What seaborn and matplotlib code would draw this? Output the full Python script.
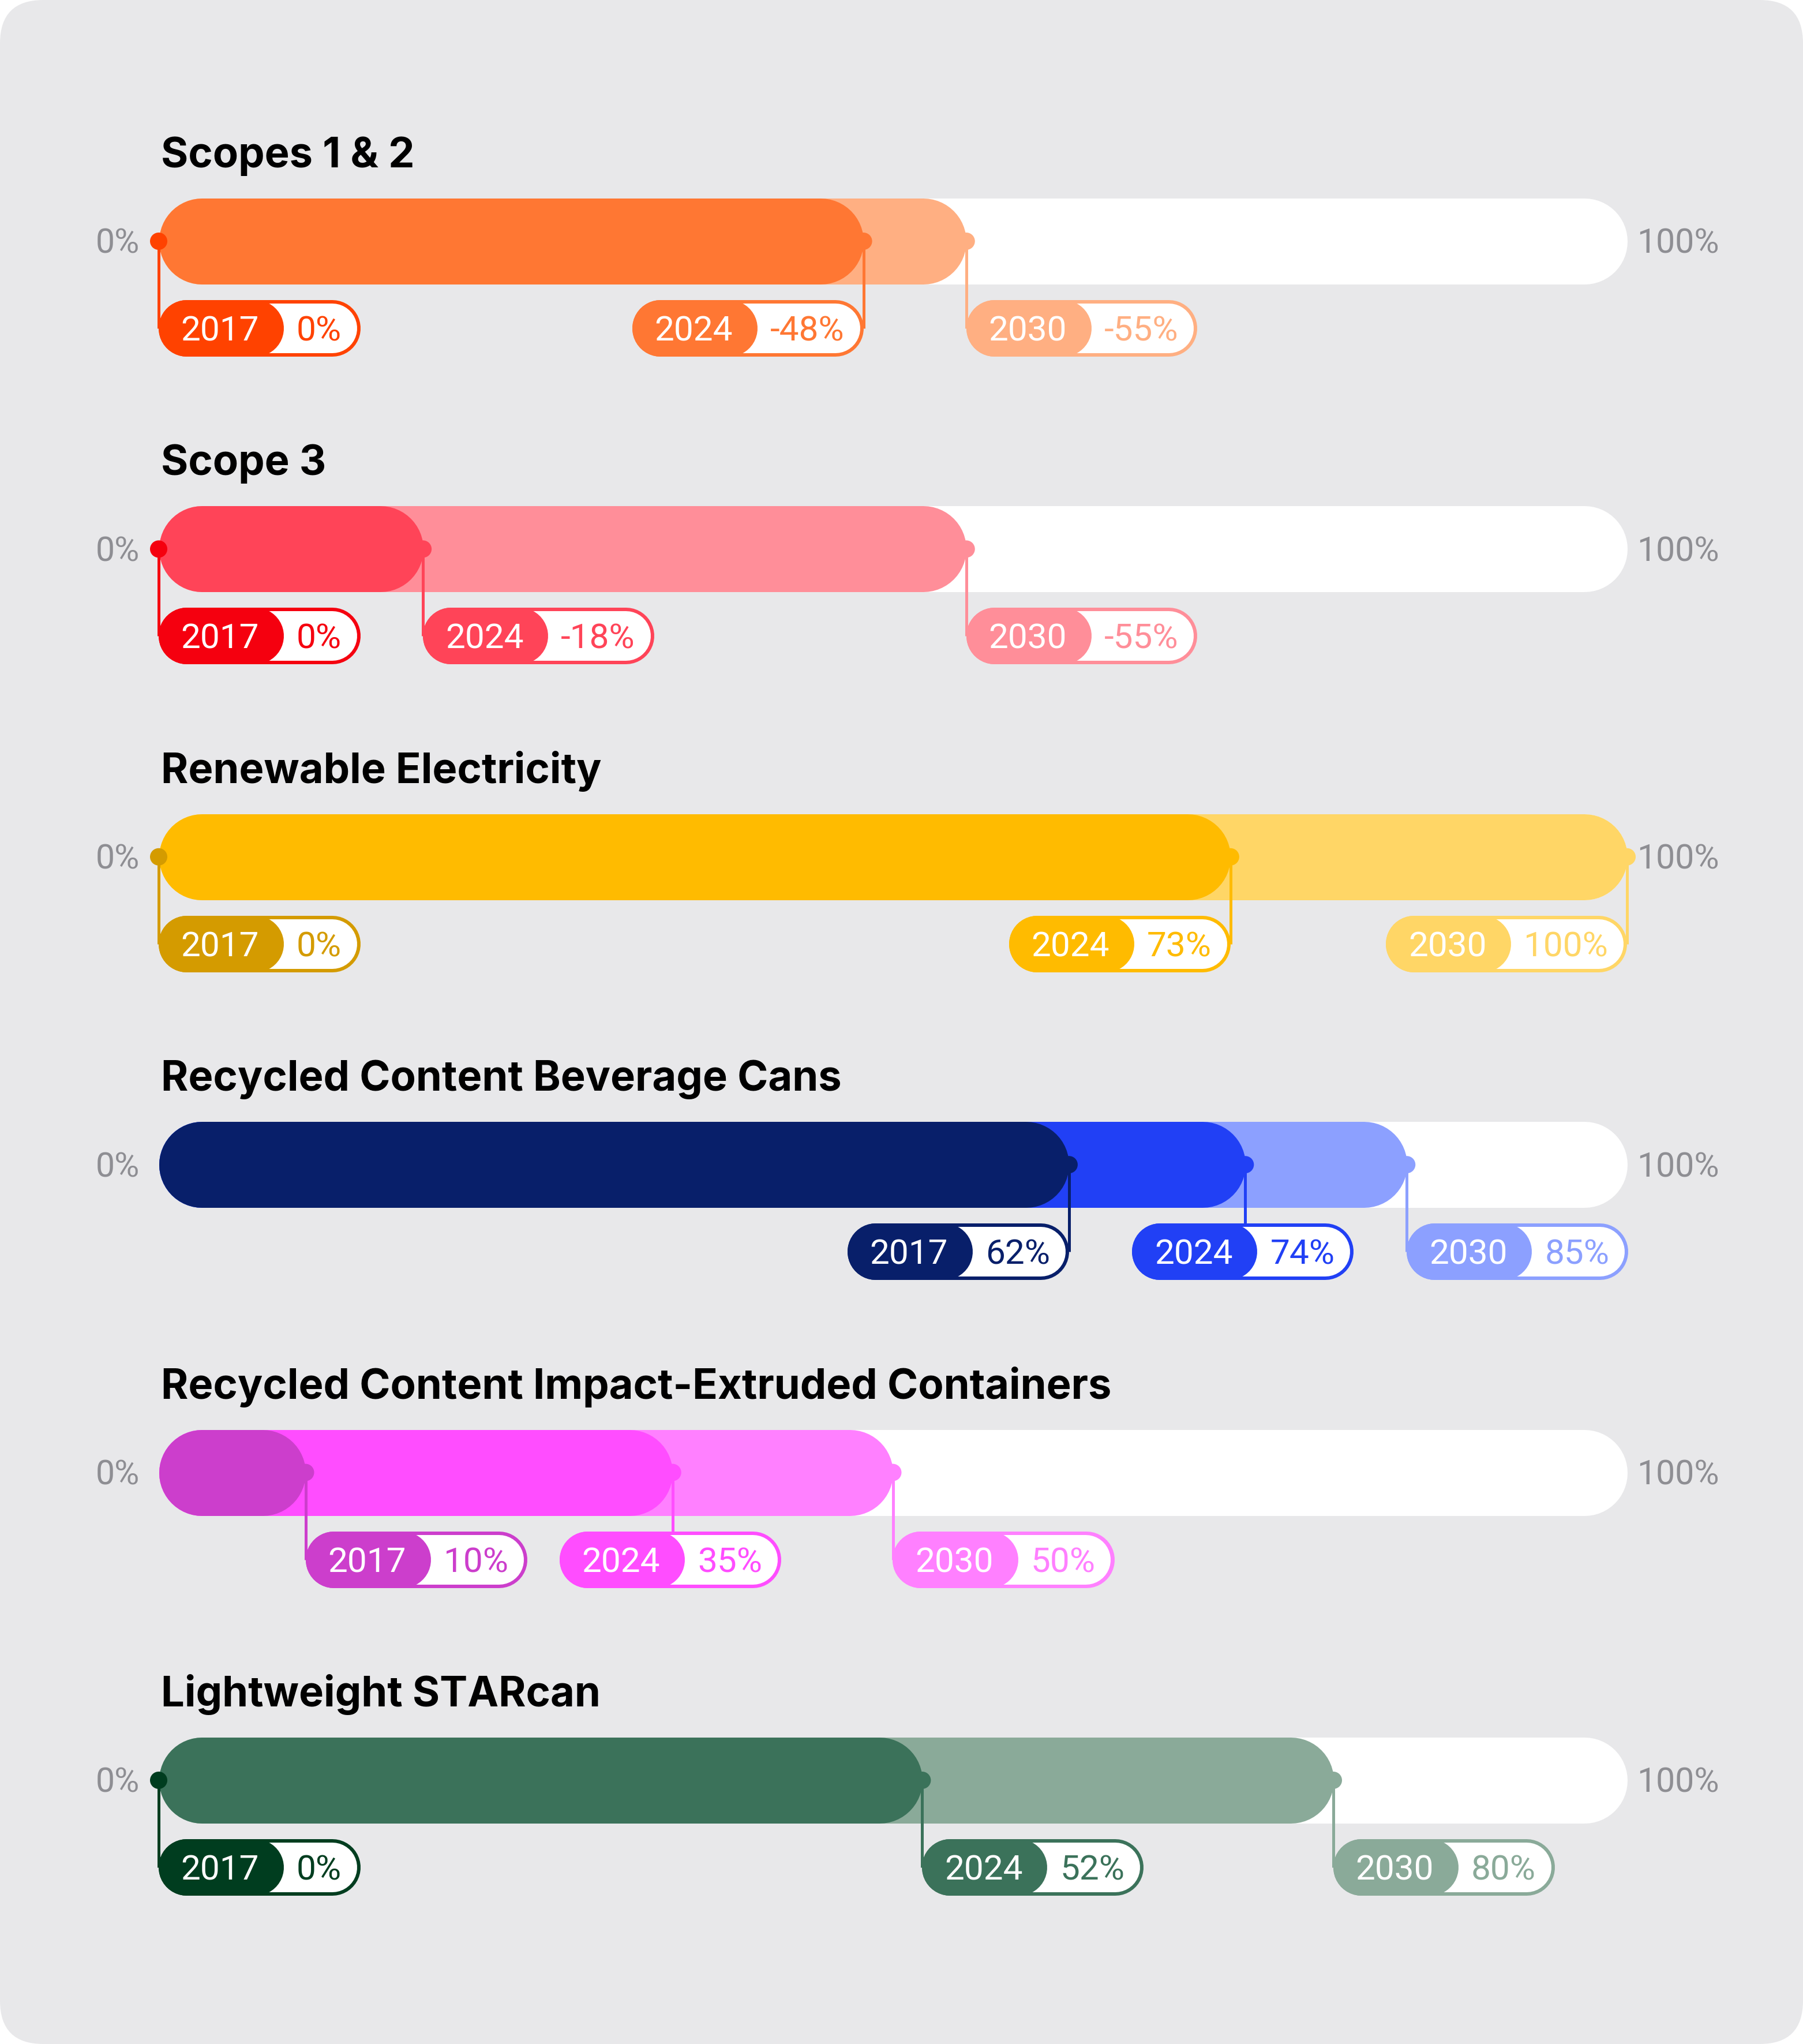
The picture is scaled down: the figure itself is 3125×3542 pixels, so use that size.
import matplotlib
matplotlib.use("Agg")
import matplotlib.pyplot as plt
from matplotlib.patches import FancyBboxPatch
import numpy as np
import pandas as pd
import seaborn as sns

# ---------------- data ----------------
titles = ["Scopes 1 & 2", "Scope 3", "Renewable Electricity",
          "Recycled Content Beverage Cans",
          "Recycled Content Impact-Extruded Containers", "Lightweight STARcan"]
years = ["2017", "2024", "2030"]
values_2017 = [0, 0, 0, 62, 10, 0]
values_2024 = [-48, -18, 73, 74, 35, 52]
values_2030 = [-55, -55, 100, 85, 50, 80]
scale_labels = ["0%", "100%"]

# ---------------- styles ----------------
colors_2017 = ["#FF4200", "#F5000F", "#D49B00", "#081F6A", "#CC3ECC", "#003D1F"]
colors_2024 = ["#FF7733", "#FF4458", "#FFBB00", "#2140F5", "#FF4DFF", "#3B725A"]
colors_2030 = ["#FFAF82", "#FF8E99", "#FFD666", "#8CA0FF", "#FF80FF", "#8AAA99"]
# label pill anchoring relative to its marker: L = left edge, R = right edge, C = centred
anchors = [["L", "R", "L"], ["L", "L", "L"], ["L", "R", "R"],
           ["R", "C", "L"], ["L", "C", "L"], ["L", "L", "L"]]

sns.set_theme(style="white")
plt.rcParams["font.family"] = ["Roboto", "DejaVu Sans"]

W, H, DPI = 3125, 3542, 100
PT = 72.0 / DPI            # points per pixel
X0, X1 = 275, 2820         # pixel span of 0%..100%
ROW0, ROWSTEP = 418, 533.4 # pixel centre of first row, spacing
BAR_H = 149
PILL_H, PILL_OFF, PILL_BORDER = 98, 151, 6
YEAR_W = 217
GRAY = "#8E8E93"
BG = "#E8E8EA"

ppx = (X1 - X0) / 100.0
ppy = ROWSTEP

fig = plt.figure(figsize=(W / DPI, H / DPI), dpi=DPI)
fig.patch.set_facecolor("white")

# card background
bg = fig.add_axes([0, 0, 1, 1])
bg.set_xlim(0, W); bg.set_ylim(H, 0); bg.axis("off")
bg.add_patch(FancyBboxPatch((0, 0), W, H, boxstyle="round,pad=0,rounding_size=75",
                            facecolor=BG, edgecolor="none"))

ax = fig.add_axes([0, 0, 1, 1], facecolor="none")
ax.set_xlim(-X0 / ppx, (W - X0) / ppx)
ax.set_ylim((H - ROW0) / ppy, -ROW0 / ppy)
ax.axis("off")

def dx(px):
    return px / ppx

def dy(px):
    return px / ppy

def xdata(px):
    return (px - X0) / ppx

def pill_line(x0, x1, y, hpx, color, z):
    r = hpx / 2.0
    ax.plot([x0 + dx(r), x1 - dx(r)], [y, y], color=color, lw=hpx * PT,
            solid_capstyle="round", zorder=z)

renderer = fig.canvas.get_renderer()

TXT_FS = 43.5
TITLE_FS = 52
SCALE_FS = 42.5

all_vals = [values_2017, values_2024, values_2030]
all_cols = [colors_2017, colors_2024, colors_2030]

records = []
for i, title in enumerate(titles):
    y = i
    # title
    ax.text(dx(4), y - dy(128), title, fontsize=TITLE_FS, fontweight="bold",
            family=["Inter", "DejaVu Sans"], color="black", ha="left", va="baseline")
    # scale labels
    cap = 0.711 * SCALE_FS / PT
    ax.text(0 - dx(33), y + dy(cap / 2), scale_labels[0], fontsize=SCALE_FS,
            color=GRAY, ha="right", va="baseline")
    ax.text(100 + dx(17), y + dy(cap / 2), scale_labels[1], fontsize=SCALE_FS,
            color=GRAY, ha="left", va="baseline")
    # track
    pill_line(0, 100, y, BAR_H, "white", 1)
    # fills (2030 underneath, 2017 on top)
    for k in (2, 1, 0):
        v = abs(all_vals[k][i])
        if v > 0:
            pill_line(0, v, y, BAR_H, all_cols[k][i], 2 + (2 - k))
    # labels
    py = y + dy(PILL_OFF)
    for k in range(3):
        val = all_vals[k][i]
        v = abs(val)
        col = all_cols[k][i]
        records.append({"row": y, "value": v, "key": f"{i}-{k}"})
        # connector
        ax.plot([v, v], [y, py], color=col, lw=5 * PT, zorder=6, solid_capstyle="butt")
        # value text (measure)
        vt = ax.text(0, py, f"{val}%", fontsize=TXT_FS, color=col,
                     ha="left", va="baseline", zorder=12)
        tw = vt.get_window_extent(renderer).width
        pw = YEAR_W + 22 + tw + 33
        xpx = X0 + v * ppx
        a = anchors[i][k]
        if a == "L":
            left = xpx
        elif a == "R":
            left = xpx - pw
        else:
            left = xpx - 0.51 * pw
        lx = xdata(left)
        rx = xdata(left + pw)
        pill_line(lx, rx, py, PILL_H, col, 9)
        pill_line(lx + dx(PILL_BORDER), rx - dx(PILL_BORDER), py,
                  PILL_H - 2 * PILL_BORDER, "white", 10)
        pill_line(lx, xdata(left + YEAR_W), py, PILL_H, col, 11)
        tcap = 0.711 * TXT_FS / PT
        ax.text(xdata(left + YEAR_W / 2 - 2), py + dy(tcap / 2), years[k],
                fontsize=TXT_FS, color="white", ha="center", va="baseline", zorder=12)
        vt.set_position((xdata(left + YEAR_W + 22), py + dy(tcap / 2)))

# marker dots at each value
df = pd.DataFrame(records)
palette = {f"{i}-{k}": all_cols[k][i] for i in range(len(titles)) for k in range(3)}
sns.scatterplot(data=df, x="value", y="row", hue="key", palette=palette,
                s=(30 * PT) ** 2, linewidth=0, legend=False, ax=ax, zorder=8)
ax.set_xlim(-X0 / ppx, (W - X0) / ppx)
ax.set_ylim((H - ROW0) / ppy, -ROW0 / ppy)
ax.axis("off")

fig.savefig("out.png", dpi=DPI, facecolor="white")
